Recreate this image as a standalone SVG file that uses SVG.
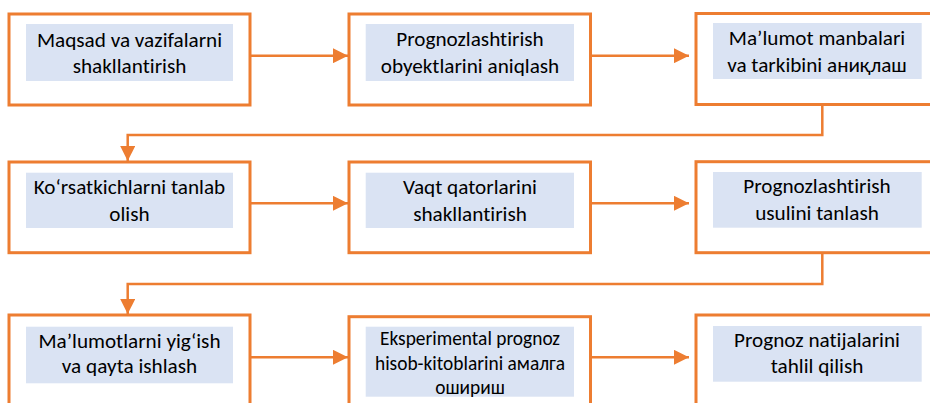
<svg xmlns="http://www.w3.org/2000/svg" width="930" height="403" viewBox="0 0 930 403">
<defs>
<style>
.box{fill:#fff;stroke:#ED7D31;stroke-width:3}
.inner{fill:#DAE3F3}
.t{font-family:Carlito,Lato,"Liberation Sans",sans-serif;font-size:21.2px;fill:#000;text-anchor:middle;font-variant-ligatures:none}
.s{font-size:19.4px}
.c{fill:none;stroke:#ED7D31;stroke-width:2.5}
</style>
<marker id="ah" viewBox="0 0 10 10" refX="10" refY="5" markerWidth="6" markerHeight="6" markerUnits="strokeWidth" orient="auto">
<path d="M0,0 L10,5 L0,10 z" fill="#ED7D31"/>
</marker>
</defs>
<rect width="930" height="403" fill="#fff"/>
<g id="connectors">
<path class="c" d="M250,55.7 H348" marker-end="url(#ah)"/>
<path class="c" d="M591,55.7 H689" marker-end="url(#ah)"/>
<path class="c" d="M822.3,105 V135 H127.7 V161" marker-end="url(#ah)"/>
<path class="c" d="M250,203.3 H348" marker-end="url(#ah)"/>
<path class="c" d="M591,203.3 H689" marker-end="url(#ah)"/>
<path class="c" d="M822.3,253 V284 H127.7 V314" marker-end="url(#ah)"/>
<path class="c" d="M250,357.3 H348" marker-end="url(#ah)"/>
<path class="c" d="M591,357.3 H689" marker-end="url(#ah)"/>
</g>
<g id="n1">
<rect class="box" x="9" y="14" width="241" height="91"/>
<rect class="inner" x="26" y="24" width="207" height="57"/>
<text class="t" x="129.5" y="46.7">Maqsad va vazifalarni</text>
<text class="t" x="129.5" y="72.7">shakllantirish</text>
</g>
<g id="n2">
<rect class="box" x="349" y="14" width="241.5" height="91"/>
<rect class="inner" x="365.7" y="24" width="208.3" height="57"/>
<text class="t" x="470" y="46">Prognozlashtirish</text>
<text class="t" x="470" y="72.5">obyektlarini aniqlash</text>
</g>
<g id="n3">
<rect class="box" x="696" y="13.5" width="245" height="91"/>
<rect class="inner" x="713" y="23" width="208.7" height="56"/>
<text class="t" x="817" y="45">Ma’lumot manbalari</text>
<text class="t" x="817" y="71.7">va tarkibini аниқлаш</text>
</g>
<g id="n4">
<rect class="box" x="9" y="162" width="241" height="90.7"/>
<rect class="inner" x="26" y="172.7" width="207" height="55.3"/>
<text class="t" x="129.5" y="194.3">Ko‘rsatkichlarni tanlab</text>
<text class="t" x="129.5" y="221">olish</text>
</g>
<g id="n5">
<rect class="box" x="349" y="162" width="241.5" height="90.7"/>
<rect class="inner" x="365.7" y="172.7" width="208.3" height="55.3"/>
<text class="t" x="470" y="194.3">Vaqt qatorlarini</text>
<text class="t" x="470" y="221">shakllantirish</text>
</g>
<g id="n6">
<rect class="box" x="696" y="161.7" width="245" height="91"/>
<rect class="inner" x="713" y="172" width="208.7" height="55.7"/>
<text class="t" x="817" y="193.3">Prognozlashtirish</text>
<text class="t" x="817" y="220">usulini tanlash</text>
</g>
<g id="n7">
<rect class="box" x="9" y="315" width="241" height="100"/>
<rect class="inner" x="26" y="326.7" width="207" height="56.6"/>
<text class="t" x="129.5" y="348.3">Ma’lumotlarni yig‘ish</text>
<text class="t" x="129.5" y="373.3">va qayta ishlash</text>
</g>
<g id="n8">
<rect class="box" x="349" y="316.7" width="241.5" height="100"/>
<rect class="inner" x="365.7" y="326.7" width="208.3" height="70"/>
<text class="t s" x="470" y="345.3">Eksperimental prognoz</text>
<text class="t s" x="470" y="370">hisob-kitoblarini амалга</text>
<text class="t s" x="470" y="394">ошириш</text>
</g>
<g id="n9">
<rect class="box" x="696" y="315" width="245" height="100"/>
<rect class="inner" x="713" y="326" width="208.7" height="55.7"/>
<text class="t" x="817" y="346.7">Prognoz natijalarini</text>
<text class="t" x="817" y="373.3">tahlil qilish</text>
</g>
</svg>
